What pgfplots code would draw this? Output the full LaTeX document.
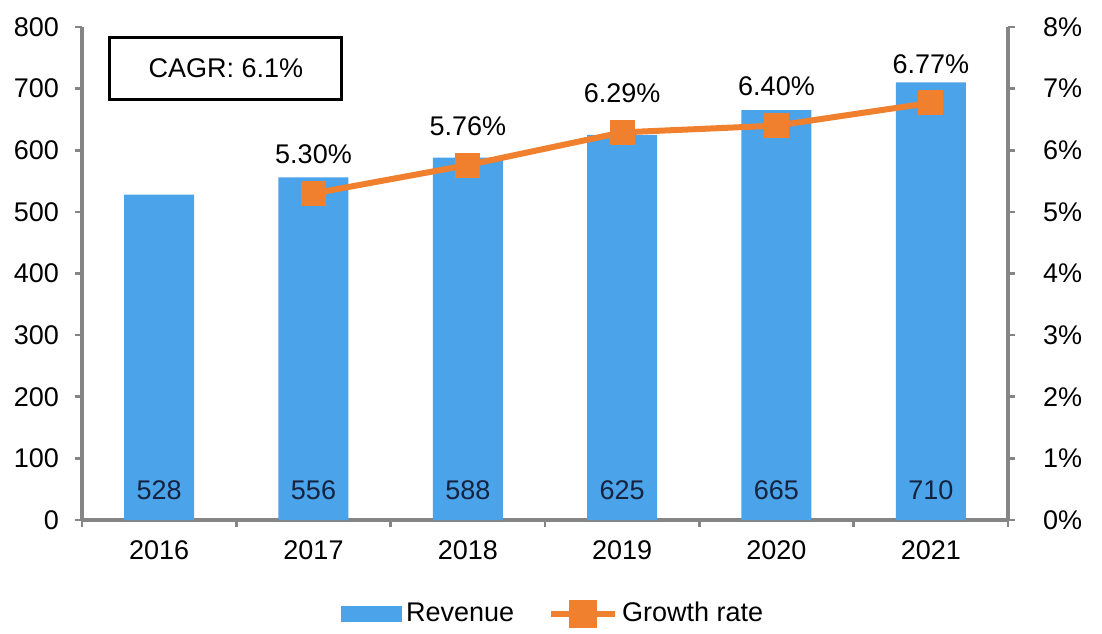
\documentclass[border=0pt]{standalone}
\usepackage{fontspec}
\setmainfont{Liberation Sans}
\usepackage{pgfplots}
\pgfplotsset{compat=1.18}
\definecolor{barblue}{HTML}{4BA3EA}
\definecolor{lineorange}{HTML}{F07F2E}
\definecolor{axgray}{HTML}{858585}
\definecolor{numdark}{HTML}{15233F}
\newcommand{\lbl}{\fontsize{13.5}{16}\selectfont}
\begin{document}
\begin{tikzpicture}
\useasboundingbox (-41pt,-56.5pt) rectangle (510pt,260pt);
\pgfplotsset{
  myaxis/.style={
    scale only axis, width=463pt, height=246.5pt,
    at={(0,0)}, anchor=south west,
    xmin=-0.5, xmax=5.5,
    axis line style={axgray, line width=1.9pt},
    tick align=outside,
    tick style={axgray, line width=1.3pt},
    major tick length=3.5pt, minor tick length=3.5pt,
    ticklabel style={font=\lbl},
    /pgf/number format/assume math mode=true,
  }
}
\begin{axis}[myaxis,
  ymin=0, ymax=800,
  axis x line*=bottom, axis y line*=left,
  xtick={0,...,5}, xticklabels={2016,2017,2018,2019,2020,2021},
  major x tick style={draw=none},
  minor xtick={-0.5,0.5,1.5,2.5,3.5,4.5,5.5},
  ytick={0,100,...,800},
  yticklabel style={xshift=-4.5pt},
  xticklabel style={yshift=-3.5pt},
]
\addplot[ybar, bar width=35pt, fill=barblue, draw=none] coordinates {
  (0,528) (1,556) (2,588) (3,625) (4,665) (5,710)
};
\node[draw=black, line width=1.5pt, minimum width=116pt, minimum height=31pt, font=\lbl] at (axis cs:0.433,733) {CAGR: 6.1\%};
\end{axis}
\begin{axis}[myaxis,
  ymin=0, ymax=8,
  axis x line=none, axis y line*=right,
  ytick={0,1,...,8},
  yticklabel={\pgfmathprintnumber{\tick}\%},
  yticklabel style={xshift=10.5pt},
  legend columns=2,
  legend style={draw=none, fill=none, font=\lbl, at={(0.51,-0.19)}, anchor=center,
    /tikz/every even column/.append style={column sep=15pt}},
]
\addlegendimage{legend image code/.code={\fill[barblue] (0pt,-3.7pt) rectangle (30pt,3.7pt);}}
\addlegendentry{Revenue}
\addplot[lineorange, line width=3pt, mark=square*, mark size=6pt,
  mark options={fill=lineorange, draw=lineorange, line width=0pt},
  nodes near coords, point meta=explicit symbolic,
  every node near coord/.append style={font=\lbl, black, anchor=center, yshift=19.5pt},
  legend image code/.code={\draw[lineorange,line width=3pt] (0pt,0pt) -- (32pt,0pt); \fill[lineorange] (10.5pt,-5.5pt) rectangle (21.5pt,5.5pt);}
] coordinates {
  (1,5.30)[5.30\%] (2,5.76)[5.76\%] (3,6.29)[6.29\%] (4,6.40)[6.40\%] (5,6.77)[6.77\%]
};
\addlegendentry{Growth rate}
\addplot[draw=none, mark=none, forget plot,
  nodes near coords, point meta=explicit symbolic,
  every node near coord/.append style={font=\lbl, numdark, anchor=center}
] coordinates {
  (0,0.49)[528] (1,0.49)[556] (2,0.49)[588] (3,0.49)[625] (4,0.49)[665] (5,0.49)[710]
};
\end{axis}
\end{tikzpicture}
\end{document}
